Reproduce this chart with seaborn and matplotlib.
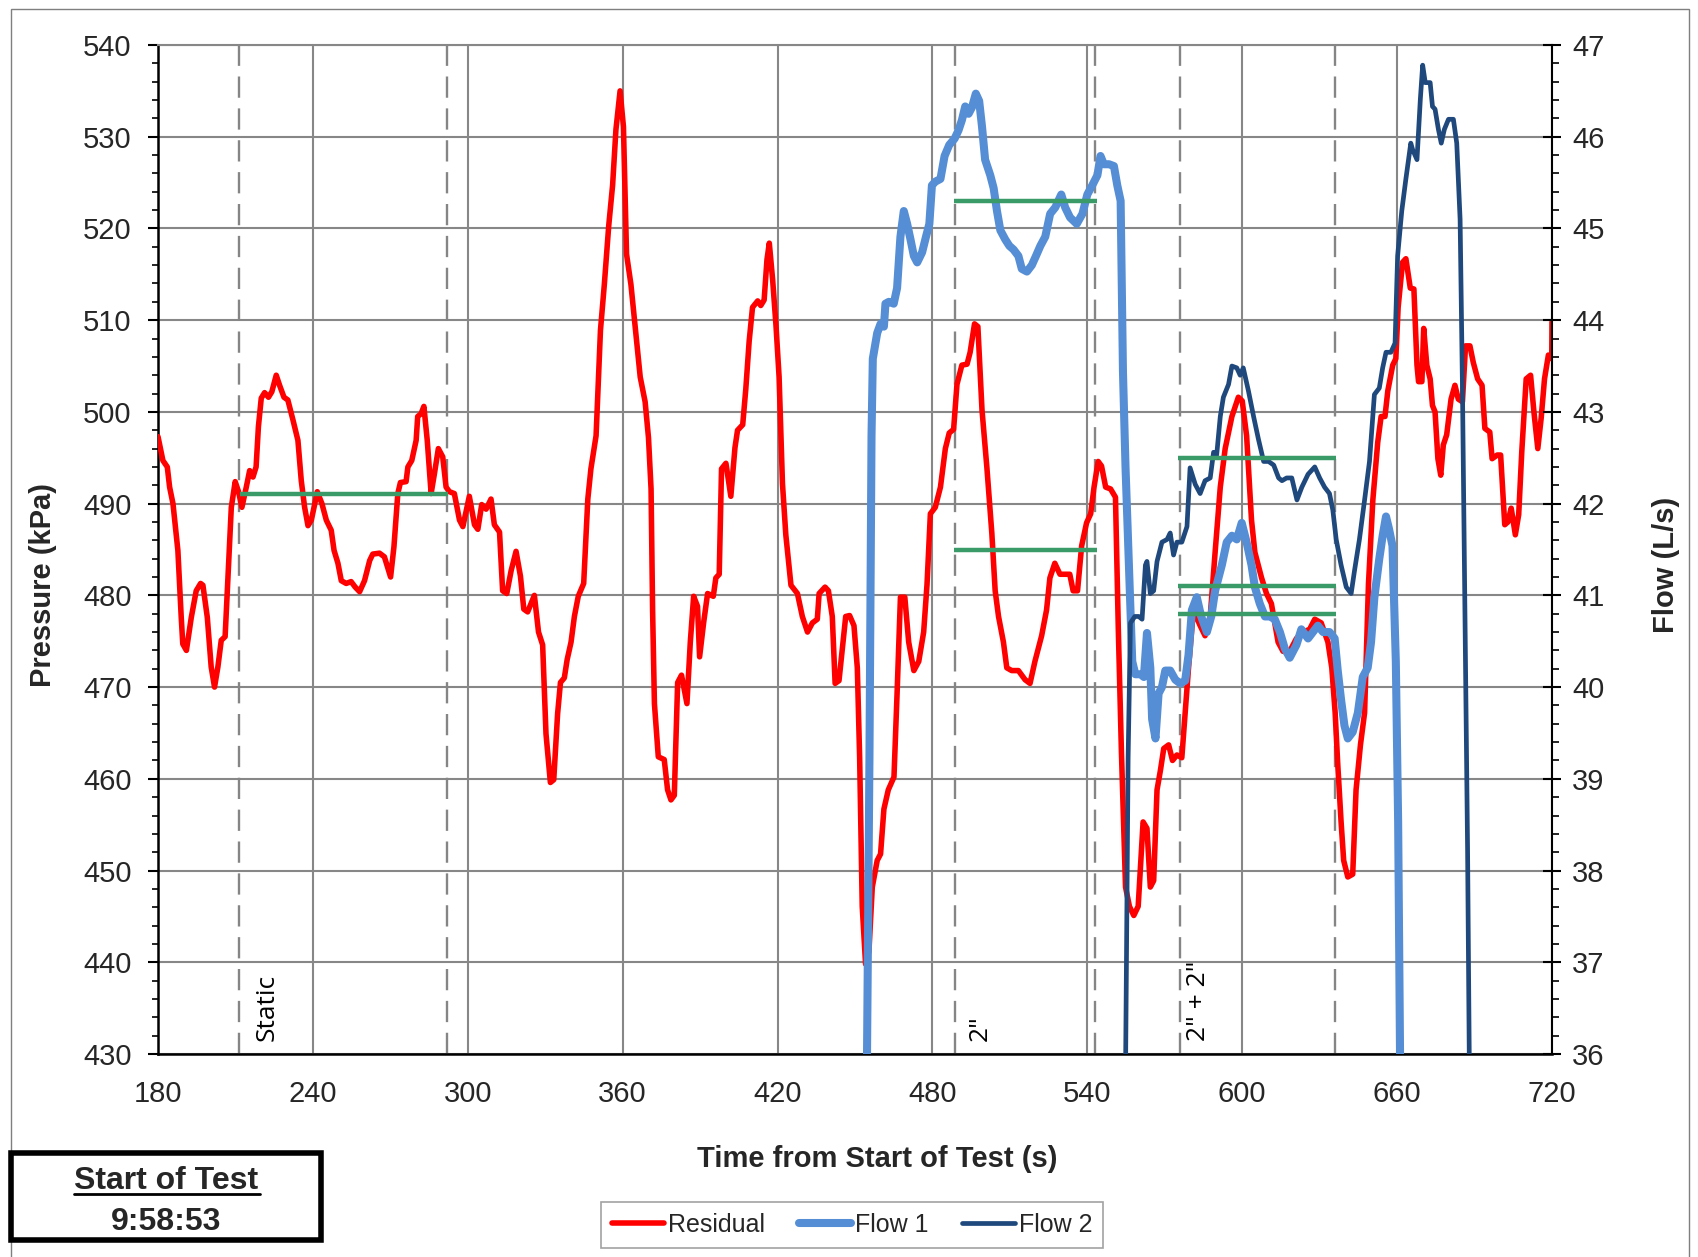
import numpy as np
import pandas as pd
import matplotlib
matplotlib.use("Agg")
import matplotlib.pyplot as plt
import seaborn as sns
from matplotlib.lines import Line2D
from matplotlib.patches import Rectangle
from matplotlib.ticker import MultipleLocator

# ---------------- data ----------------
time_res = [
    180.0, 181.9, 183.6, 184.5, 185.8, 187.7, 189.0, 189.6, 191.0, 192.9,
    194.8, 196.5, 197.4, 199.1, 200.6, 201.9, 203.2, 204.5, 206.0, 207.3,
    208.4, 209.9, 211.2, 212.5, 214.2, 215.5, 216.8, 218.0, 218.9, 220.0,
    221.3, 222.8, 224.1, 225.8, 227.1, 228.8, 230.3, 232.3, 234.2, 235.5,
    236.8, 238.1, 239.4, 241.7, 243.5, 245.2, 247.1, 248.2, 249.7, 251.0,
    252.9, 254.8, 256.4, 258.1, 260.0, 262.0, 263.2, 265.8, 267.7, 270.1,
    271.4, 272.9, 273.9, 276.1, 276.8, 278.3, 280.0, 280.6, 281.9, 283.0,
    284.3, 285.8, 287.1, 288.6, 290.3, 291.6, 292.9, 294.8, 296.8, 298.1,
    300.6, 302.6, 303.9, 305.4, 307.1, 309.0, 310.3, 312.3, 313.5, 315.1,
    316.8, 318.7, 320.4, 321.7, 323.2, 325.8, 327.4, 329.0, 330.3, 332.0,
    333.3, 334.8, 335.9, 337.4, 338.5, 340.0, 341.3, 342.8, 344.9, 346.5,
    347.7, 349.7, 351.4, 352.9, 354.6, 356.1, 357.4, 359.0, 360.3, 361.5,
    363.2, 365.2, 366.8, 368.7, 370.0, 371.0, 371.6, 372.3, 373.8, 376.1,
    377.4, 378.7, 380.0, 381.3, 382.8, 384.9, 386.2, 387.5, 389.0, 389.8,
    391.4, 392.9, 395.1, 396.1, 397.4, 398.3, 400.0, 401.9, 403.5, 404.5,
    406.5, 407.7, 409.0, 410.3, 412.3, 413.5, 414.8, 415.9, 416.8, 418.1,
    419.4, 420.6, 421.9, 423.2, 425.2, 427.7, 429.6, 431.6, 433.5, 435.4,
    436.1, 438.4, 439.7, 441.2, 442.3, 443.8, 445.1, 446.4, 447.9, 449.6,
    450.9, 451.8, 452.8, 454.1, 455.4, 456.7, 458.6, 459.9, 461.2, 462.9,
    465.1, 466.3, 467.6, 469.3, 470.8, 472.8, 474.7, 476.6, 477.9, 479.2,
    481.1, 483.1, 485.0, 486.5, 488.2, 489.5, 491.4, 493.4, 494.6, 496.3,
    497.6, 499.2, 501.1, 503.0, 504.3, 505.6, 507.5, 508.8, 510.7, 513.3,
    515.9, 517.8, 519.7, 522.3, 524.2, 525.5, 527.4, 529.4, 531.3, 533.2,
    534.5, 536.2, 537.8, 539.7, 541.3, 542.6, 544.2, 545.5, 547.1, 549.0,
    550.9, 552.0, 553.2, 554.8, 556.3, 558.0, 559.7, 560.6, 561.6, 563.1,
    564.4, 565.7, 567.0, 568.3, 569.6, 571.5, 573.0, 574.7, 576.6, 577.9,
    579.2, 581.1, 583.7, 585.6, 587.6, 589.5, 591.5, 593.4, 596.0, 598.5,
    600.0, 601.7, 603.6, 604.9, 607.5, 609.4, 611.3, 613.9, 615.8, 618.4,
    621.0, 623.6, 626.1, 628.1, 630.6, 633.2, 634.7, 636.0, 637.0, 638.3,
    639.3, 640.9, 642.8, 644.1, 645.8, 647.4, 648.9, 650.6, 652.5, 653.8,
    655.3, 656.4, 658.3, 659.5, 660.4, 662.1, 663.4, 665.1, 666.5, 667.7,
    668.3, 669.6, 670.3, 671.5, 672.8, 673.7, 674.7, 675.8, 676.9, 677.9,
    679.2, 680.9, 682.4, 683.7, 685.3, 686.5, 688.2, 689.5, 691.2, 692.9,
    694.0, 695.9, 696.8, 698.8, 700.1, 701.7, 702.9, 704.2, 705.8, 707.1,
    708.3, 710.0, 711.7, 713.0, 714.5, 715.8, 717.1, 718.6, 719.9, 720.0]
residual = [
    497.3, 494.7, 494.0, 491.8, 490.0, 484.9, 477.6, 474.7, 474.0, 477.6,
    480.5, 481.3, 481.1, 477.6, 472.2, 470.0, 472.2, 475.1, 475.5, 483.1,
    489.6, 492.4, 491.3, 489.6, 491.8, 493.6, 492.9, 494.0, 498.4, 501.5,
    502.1, 501.6, 502.2, 504.0, 502.9, 501.6, 501.3, 499.1, 496.9, 492.5,
    489.6, 487.6, 488.2, 491.3, 490.0, 488.2, 487.1, 484.9, 483.5, 481.6,
    481.3, 481.5, 480.9, 480.4, 481.6, 483.8, 484.5, 484.6, 484.2, 482.0,
    485.3, 491.1, 492.3, 492.4, 494.0, 494.7, 496.9, 499.5, 499.8, 500.6,
    496.9, 491.1, 493.3, 496.0, 495.1, 491.8, 491.3, 491.1, 488.2, 487.5,
    490.8, 487.7, 487.2, 489.9, 489.4, 490.5, 487.7, 486.9, 480.5, 480.2,
    482.7, 484.8, 482.1, 478.5, 478.2, 480.0, 476.0, 474.6, 464.9, 459.6,
    459.9, 467.1, 470.5, 471.0, 473.0, 474.9, 477.7, 479.9, 481.3, 490.5,
    493.8, 497.4, 508.9, 513.9, 520.3, 524.7, 530.8, 535.0, 531.1, 517.2,
    513.9, 508.3, 503.8, 501.1, 497.2, 491.6, 478.3, 468.2, 462.4, 462.1,
    458.8, 457.7, 458.2, 470.5, 471.3, 468.2, 474.9, 479.9, 478.8, 473.3,
    477.1, 480.2, 479.9, 481.9, 482.3, 493.8, 494.4, 490.8, 496.1, 498.0,
    498.6, 502.5, 507.7, 511.4, 512.1, 511.6, 512.2, 516.6, 518.4, 514.4,
    509.4, 503.8, 492.2, 486.6, 481.1, 480.2, 477.7, 476.0, 477.0, 477.4,
    480.2, 480.9, 480.5, 477.7, 470.4, 470.7, 474.2, 477.7, 477.8, 476.7,
    472.1, 462.3, 446.1, 439.8, 441.2, 448.2, 451.1, 451.8, 456.7, 458.8,
    460.2, 469.3, 479.8, 479.8, 474.9, 471.8, 472.8, 476.0, 481.2, 488.9,
    489.6, 491.8, 496.0, 497.7, 498.1, 503.0, 505.1, 505.2, 506.5, 509.6,
    509.3, 500.2, 493.9, 486.8, 480.5, 477.7, 474.9, 472.1, 471.8, 471.8,
    470.8, 470.4, 472.8, 475.6, 478.4, 481.9, 483.5, 482.3, 482.3, 482.3,
    480.5, 480.5, 485.4, 487.9, 488.9, 491.8, 494.6, 494.1, 491.8, 491.6,
    490.7, 476.3, 463.0, 448.2, 446.1, 445.1, 446.1, 450.4, 455.3, 454.6,
    448.2, 448.9, 458.8, 460.9, 463.3, 463.7, 462.0, 462.6, 462.3, 467.2,
    472.1, 478.4, 476.7, 475.6, 477.7, 484.7, 491.8, 496.0, 499.5, 501.6,
    501.2, 497.4, 488.2, 484.7, 481.9, 480.2, 479.1, 474.9, 473.9, 473.9,
    475.3, 476.0, 476.3, 477.4, 477.0, 474.9, 472.1, 467.2, 461.6, 455.3,
    451.1, 449.3, 449.6, 458.8, 463.7, 467.2, 481.2, 490.4, 496.7, 499.5,
    499.5, 502.3, 505.1, 505.8, 511.4, 516.3, 516.7, 513.5, 513.4, 505.1,
    503.3, 503.3, 509.1, 505.1, 503.6, 500.7, 500.0, 494.9, 493.1, 496.4,
    497.5, 501.4, 502.9, 501.4, 501.1, 507.2, 507.2, 505.4, 503.6, 502.9,
    498.2, 497.8, 494.9, 495.3, 495.3, 487.7, 488.0, 489.5, 486.6, 488.8,
    495.7, 503.6, 504.0, 500.0, 496.0, 499.3, 503.6, 506.2, 505.8, 509.8]

time_f1 = [
    453.5, 454.6, 455.6, 456.4, 456.9, 458.6, 459.9, 461.2, 461.8, 463.1,
    465.0, 466.3, 467.6, 468.9, 470.2, 471.5, 472.8, 474.1, 476.0, 477.5,
    478.8, 479.8, 481.1, 483.1, 484.7, 486.5, 488.6, 490.1, 491.4, 492.7,
    494.0, 495.3, 496.8, 498.1, 499.2, 500.4, 502.4, 503.7, 505.0, 506.3,
    508.2, 509.8, 511.4, 513.3, 514.6, 516.6, 518.5, 520.1, 521.8, 523.7,
    525.6, 527.6, 529.9, 531.4, 533.3, 535.9, 538.1, 540.0, 541.9, 543.9,
    545.1, 546.4, 548.4, 550.3, 551.6, 552.9, 553.8, 554.8, 556.1, 557.4,
    558.6, 560.6, 561.9, 563.1, 564.4, 565.1, 566.4, 567.6, 568.9, 570.2,
    572.1, 574.1, 576.0, 577.9, 579.2, 580.5, 582.4, 584.1, 586.3, 588.0,
    589.5, 592.1, 594.0, 596.0, 597.9, 599.8, 601.7, 603.6, 604.9, 606.8,
    608.8, 610.7, 612.6, 614.6, 616.5, 618.4, 621.0, 622.9, 625.5, 627.4,
    629.3, 631.3, 633.8, 635.8, 637.0, 638.3, 639.6, 640.9, 642.8, 644.8,
    646.7, 648.6, 649.9, 651.2, 653.1, 654.4, 655.7, 656.9, 658.2, 659.5,
    660.4, 661.2, 662.0]
flow1 = [
    0.0, 35.8, 39.23, 42.74, 43.58, 43.86, 43.96, 43.93, 44.18, 44.2,
    44.18, 44.35, 44.91, 45.19, 45.05, 44.88, 44.7, 44.63, 44.74, 44.91,
    45.05, 45.47, 45.51, 45.54, 45.79, 45.91, 45.98, 46.07, 46.18, 46.33,
    46.25, 46.32, 46.47, 46.39, 46.11, 45.75, 45.58, 45.44, 45.19, 44.98,
    44.88, 44.81, 44.77, 44.7, 44.56, 44.53, 44.6, 44.7, 44.81, 44.91,
    45.16, 45.23, 45.37, 45.23, 45.12, 45.05, 45.16, 45.37, 45.47, 45.58,
    45.79, 45.7, 45.7, 45.68, 45.47, 45.3, 43.44, 42.39, 41.33, 40.28,
    40.14, 40.14, 40.11, 40.59, 40.21, 39.65, 39.44, 39.93, 40.0, 40.18,
    40.18, 40.08, 40.04, 40.07, 40.35, 40.84, 40.98, 40.77, 40.6, 40.77,
    41.05, 41.33, 41.58, 41.65, 41.61, 41.79, 41.58, 41.33, 41.09, 40.91,
    40.77, 40.77, 40.74, 40.6, 40.42, 40.32, 40.46, 40.63, 40.53, 40.6,
    40.67, 40.6, 40.6, 40.53, 40.18, 39.86, 39.58, 39.44, 39.51, 39.72,
    40.11, 40.21, 40.49, 40.98, 41.4, 41.65, 41.86, 41.72, 41.54, 40.28,
    38.53, 35.8, 0.0]

time_f2 = [
    553.8, 554.8, 555.8, 556.7, 558.4, 559.9, 561.2, 562.5, 563.1, 564.4,
    565.7, 567.0, 568.9, 570.9, 572.1, 573.4, 574.7, 576.6, 578.6, 579.8,
    581.8, 583.7, 585.6, 587.6, 588.9, 590.1, 591.5, 592.7, 594.7, 596.0,
    597.9, 599.2, 600.4, 602.4, 604.4, 606.3, 608.3, 610.2, 612.2, 614.1,
    615.4, 617.2, 619.2, 621.2, 623.1, 625.5, 628.1, 630.0, 631.9, 633.8,
    635.1, 636.4, 638.3, 640.3, 642.2, 643.5, 645.4, 647.4, 649.3, 651.2,
    653.1, 654.4, 655.7, 657.6, 659.2, 660.2, 661.8, 663.4, 665.3, 666.0,
    667.7, 669.0, 669.9, 670.9, 672.8, 673.7, 674.7, 676.0, 677.1, 678.3,
    679.9, 681.8, 683.1, 684.4, 685.3, 686.3, 687.3, 688.0, 689.0]
flow2 = [
    0.0, 35.8, 39.23, 40.7, 40.77, 40.77, 40.74, 41.33, 41.37, 41.02,
    41.05, 41.37, 41.58, 41.61, 41.68, 41.44, 41.58, 41.58, 41.75, 42.39,
    42.21, 42.11, 42.25, 42.28, 42.56, 42.53, 42.95, 43.16, 43.3, 43.5,
    43.48, 43.4, 43.48, 43.23, 42.95, 42.7, 42.46, 42.46, 42.42, 42.28,
    42.25, 42.28, 42.28, 42.04, 42.18, 42.32, 42.4, 42.28, 42.18, 42.11,
    41.93, 41.61, 41.33, 41.09, 41.02, 41.27, 41.61, 42.04, 42.46, 43.19,
    43.26, 43.48, 43.65, 43.65, 43.75, 44.7, 45.19, 45.54, 45.93, 45.86,
    45.75, 46.41, 46.78, 46.59, 46.59, 46.33, 46.3, 46.08, 45.93, 46.08,
    46.19, 46.19, 45.93, 45.1, 43.29, 40.75, 38.22, 35.8, 0.0]

# test-phase markers (s)
phase_bounds = [211.5, 291.9, 488.8, 543.0, 575.9, 635.8]
phase_labels = ["Static", '2"', '2" + 2"']
phase_label_time = [222.4, 498.5, 583.2]

# averages over each phase
res_avg_start = [211.6, 488.2, 575.3]
res_avg_end = [292.3, 543.6, 636.4]
res_avg = [491.0, 485.0, 481.0]          # kPa
f1_avg_start = [488.2, 575.3]
f1_avg_end = [543.6, 636.4]
f1_avg = [45.3, 40.8]                    # L/s
f2_avg_start = [575.3]
f2_avg_end = [636.4]
f2_avg = [42.5]                          # L/s

assert len(time_res) == len(residual)
assert len(time_f1) == len(flow1)
assert len(time_f2) == len(flow2)

# ---------------- style ----------------
sns.set_style("white")
plt.rcParams["font.family"] = ["Liberation Sans", "DejaVu Sans"]

RED = "#FF0000"
BLUE1 = "#558ED5"
BLUE2 = "#1F497D"
GREEN = "#3A9A68"
GRID = "#878787"
DASH = "#858585"

LW_RED, LW_F1, LW_F2 = 4.0, 5.8, 3.4

W, H = 1698, 1257
fig = plt.figure(figsize=(W / 100, H / 100), dpi=100)
fig.patch.set_facecolor("white")

ax = fig.add_axes([158 / W, 1 - 1054 / H, (1552 - 158) / W, (1054 - 45) / H])
ax2 = ax.twinx()

ax.set_xlim(180, 720)
ax.set_ylim(430, 540)
ax2.set_ylim(36, 47)

ax.set_xticks(np.arange(180, 721, 60))
ax.set_yticks(np.arange(430, 541, 10))
ax2.set_yticks(np.arange(36, 48, 1))
ax.xaxis.set_minor_locator(MultipleLocator(10))
ax.yaxis.set_minor_locator(MultipleLocator(2))
ax2.yaxis.set_minor_locator(MultipleLocator(0.2))

ax.grid(True, which="major", color=GRID, lw=1.5)
ax.set_axisbelow(True)

# phase boundary lines
for t in phase_bounds:
    ax.axvline(t, color=DASH, lw=1.7, ls=(0, (9, 4.5)), zorder=1.5)

# series
sns.lineplot(x=time_res, y=residual, ax=ax, color=RED, lw=LW_RED,
             estimator=None, sort=False, zorder=3)
sns.lineplot(x=time_f1, y=flow1, ax=ax2, color=BLUE1, lw=LW_F1,
             estimator=None, sort=False, zorder=3)
sns.lineplot(x=time_f2, y=flow2, ax=ax2, color=BLUE2, lw=LW_F2,
             estimator=None, sort=False, zorder=4)

# averages (drawn on top)
ax2.hlines(res_avg, res_avg_start, res_avg_end, colors=GREEN, lw=3.2,
           transform=ax.transData, zorder=6)
ax2.hlines(f1_avg, f1_avg_start, f1_avg_end, colors=GREEN, lw=3.2, zorder=6)
ax2.hlines(f2_avg, f2_avg_start, f2_avg_end, colors=GREEN, lw=3.2, zorder=6)
ax.set_xlim(180, 720)
ax.set_ylim(430, 540)
ax2.set_ylim(36, 47)

# phase labels
for t, lab in zip(phase_label_time, phase_labels):
    ax.text(t, 431.4, lab, rotation=90, ha="center", va="bottom",
            fontsize=19, family=["Open Sans", "DejaVu Sans"], color="black",
            zorder=5)

# spines & ticks
ax.spines["top"].set_color(GRID)
ax.spines["top"].set_linewidth(1.5)
ax2.spines["top"].set_visible(False)
ax.spines["right"].set_visible(False)
ax2.spines["left"].set_visible(False)
ax2.spines["bottom"].set_visible(False)
for s in ["left", "bottom"]:
    ax.spines[s].set_color("black")
    ax.spines[s].set_linewidth(1.8)
ax2.spines["right"].set_color("black")
ax2.spines["right"].set_linewidth(1.5)

ax.tick_params(axis="x", which="major", direction="out", length=7, width=1.5,
               labelsize=21, pad=11.5, color="black")
ax.tick_params(axis="x", which="minor", direction="out", length=4, width=1.2,
               color="black")
ax.tick_params(axis="y", which="major", direction="out", length=7, width=1.5,
               labelsize=21, pad=12, color="black")
ax.tick_params(axis="y", which="minor", direction="out", length=4, width=1.2,
               color="black")
ax2.tick_params(axis="y", which="major", direction="inout", length=13, width=1.5,
                labelsize=21, pad=8, color="black")
ax2.tick_params(axis="y", which="minor", direction="out", length=5, width=1.2,
                color="black")
ax.set_xlabel("")
ax.set_ylabel("")
ax2.set_ylabel("")

# axis titles
fig.text(43 / W, 1 - 585 / H, "Pressure (kPa)", rotation=90, ha="center",
         va="center", fontsize=21, fontweight="bold")
fig.text(1666 / W, 1 - 565 / H, "Flow (L/s)", rotation=90, ha="center",
         va="center", fontsize=21, fontweight="bold")
fig.text(877 / W, 1 - 1159 / H, "Time from Start of Test (s)", ha="center",
         va="center", fontsize=21, fontweight="bold")

# legend
handles = [Line2D([], [], color=RED, lw=LW_RED),
           Line2D([], [], color=BLUE1, lw=LW_F1),
           Line2D([], [], color=BLUE2, lw=LW_F2)]
leg = fig.legend(handles, ["Residual", "Flow 1", "Flow 2"], loc="center",
                 bbox_to_anchor=(852 / W, 1 - 1225 / H), ncol=3, frameon=True,
                 fancybox=False, edgecolor="#8A8A8A", fontsize=18,
                 handlelength=2.1, handletextpad=0.15, columnspacing=1.35,
                 borderpad=0.45, borderaxespad=0.0)
leg.get_frame().set_linewidth(1.2)

# outer border
fig.patches.append(Rectangle((11 / W, -0.01), (1689 - 11) / W, 1.01 - 9 / H,
                             transform=fig.transFigure, fill=False,
                             edgecolor="#7F7F7F", lw=1.0, zorder=0))
# Start of Test box
fig.patches.append(Rectangle((11 / W, 1 - 1240 / H), 310 / W, 87 / H,
                             transform=fig.transFigure, facecolor="white",
                             edgecolor="black", lw=4, zorder=5))
fig.text(166 / W, 1 - 1181 / H, "Start of Test", ha="center", va="center",
         fontsize=23, fontweight="bold", zorder=6)
fig.lines.append(Line2D([74 / W, 260 / W], [1 - 1194 / H, 1 - 1194 / H],
                        transform=fig.transFigure, color="black", lw=2, zorder=6))
fig.text(166 / W, 1 - 1222 / H, "9:58:53", ha="center", va="center",
         fontsize=23, fontweight="bold", zorder=6)

fig.savefig("out.png", dpi=100, facecolor="white")
